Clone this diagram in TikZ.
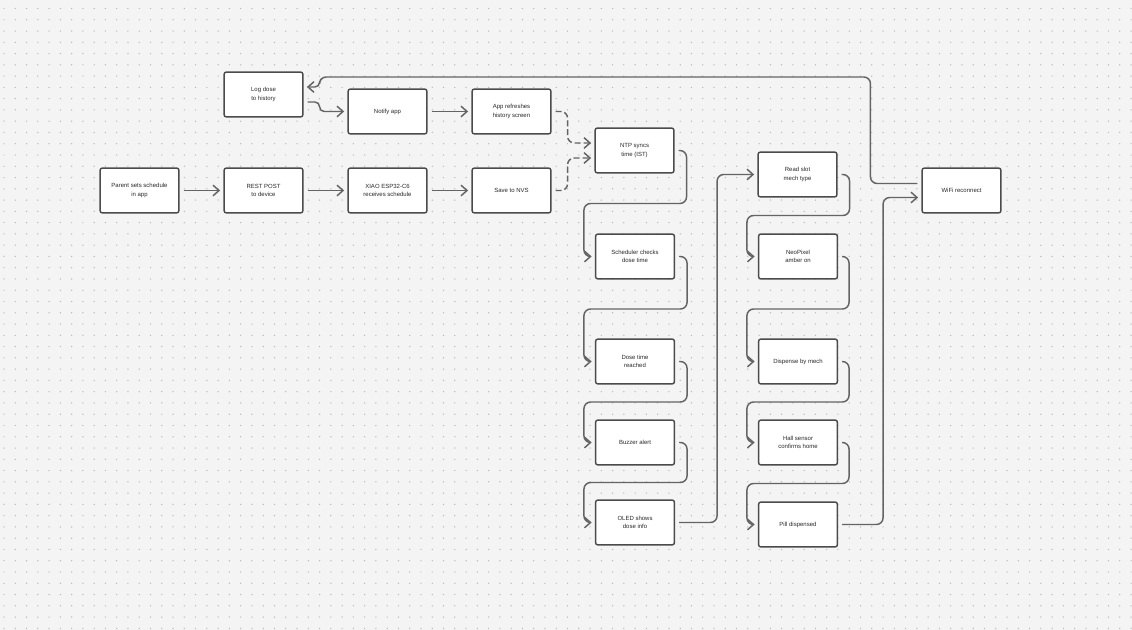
\documentclass[tikz,border=0pt]{standalone}
\usepackage{fontspec}
\setmainfont{Liberation Sans}
\usetikzlibrary{arrows.meta, calc}
\definecolor{FlowBg}{RGB}{244,244,244}
\definecolor{FlowDot}{RGB}{185,185,185}
\definecolor{FlowLine}{RGB}{100,100,100}
\definecolor{FlowBorder}{RGB}{75,75,75}
\definecolor{FlowText}{RGB}{40,40,40}

\tikzset{
  blk/.style={draw=FlowBorder, fill=white, line width=1.1pt, rounded corners=1.5pt,
    minimum width=59pt, minimum height=33.5pt, inner sep=1pt, align=center,
    text=FlowText, font=\fontsize{4.5}{6.4}\selectfont},
  flow/.style={draw=FlowLine, line width=1.1pt, rounded corners=5pt,
    -{Straight Barb[length=4.5pt,width=8pt]}, shorten >=2.5pt, shorten <=3pt},
  flowdash/.style={flow, dash pattern=on 4.5pt off 2.2pt}
}

\begin{document}
\begin{tikzpicture}[x=0.75pt,y=-0.75pt]
  \path[use as bounding box, fill=FlowBg] (0,0) rectangle (1132,630);
  % dot grid
  \foreach \i in {0,...,100}
    \foreach \j in {0,...,55}
      \fill[FlowDot] ({4+\i*11.27},{8.5+\j*11.27}) circle (0.55pt);

  % app / network side
  \node[blk] (logdose) at (263.5,94.5) {Log dose\\to history};
  \node[blk] (notify) at (387.5,111.5) {Notify app};
  \node[blk] (refresh) at (511.5,111.5) {App refreshes\\history screen};
  \node[blk] (parent) at (139.5,190.5) {Parent sets schedule\\in app};
  \node[blk] (rest) at (263.5,190.5) {REST POST\\to device};
  \node[blk] (xiao) at (387.5,190.5) {XIAO ESP32-C6\\receives schedule};
  \node[blk] (nvs) at (511.5,190.5) {Save to NVS};

  % scheduler column
  \node[blk] (ntp) at (634.5,150.5) {NTP syncs\\time (IST)};
  \node[blk] (sched) at (635,256.5) {Scheduler checks\\dose time};
  \node[blk] (reached) at (635,361.5) {Dose time\\reached};
  \node[blk] (buzzer) at (635,442.5) {Buzzer alert};
  \node[blk] (oled) at (635,522.5) {OLED shows\\dose info};

  % dispenser column
  \node[blk] (readslot) at (797.5,174.5) {Read slot\\mech type};
  \node[blk] (neopixel) at (798,256.5) {NeoPixel\\amber on};
  \node[blk] (dispense) at (798,361.5) {Dispense by mech};
  \node[blk] (hall) at (798,442.5) {Hall sensor\\confirms home};
  \node[blk] (pill) at (798,524.5) {Pill dispensed};
  \node[blk] (wifi) at (961.5,190.5) {WiFi reconnect};

  % connectors
  \draw[flow] (parent) -- (rest);
  \draw[flow] (rest) -- (xiao);
  \draw[flow] (xiao) -- (nvs);
  \draw[flow] (notify) -- (refresh);
  \draw[flow, rounded corners=3.5pt] ($(logdose.east)+(0,7.5)$) -- ++(16,0) |- (notify.west);
  \draw[flowdash] (refresh.east) -- ++(16,0) |- ($(ntp.west)+(0,-7.5)$);
  \draw[flowdash] (nvs.east) -- ++(16,0) |- ($(ntp.west)+(0,7.5)$);

  \draw[flow] (ntp.east) -- ++(12,0) |- ($(ntp.south)!0.5!(sched.north)$)
    -| ($(sched.west)+(-11,0)$) -- (sched.west);
  \draw[flow] (sched.east) -- ++(12,0) |- ($(sched.south)!0.5!(reached.north)$)
    -| ($(reached.west)+(-11,0)$) -- (reached.west);
  \draw[flow] (reached.east) -- ++(12,0) |- ($(reached.south)!0.5!(buzzer.north)$)
    -| ($(buzzer.west)+(-11,0)$) -- (buzzer.west);
  \draw[flow] (buzzer.east) -- ++(12,0) |- ($(buzzer.south)!0.5!(oled.north)$)
    -| ($(oled.west)+(-11,0)$) -- (oled.west);
  \draw[flow] (oled.east) -- ++(42,0) |- (readslot.west);

  \draw[flow] (readslot.east) -- ++(12,0) |- ($(readslot.south)!0.5!(neopixel.north)$)
    -| ($(neopixel.west)+(-11,0)$) -- (neopixel.west);
  \draw[flow] (neopixel.east) -- ++(11,0) |- ($(neopixel.south)!0.5!(dispense.north)$)
    -| ($(dispense.west)+(-11,0)$) -- (dispense.west);
  \draw[flow] (dispense.east) -- ++(11,0) |- ($(dispense.south)!0.5!(hall.north)$)
    -| ($(hall.west)+(-11,0)$) -- (hall.west);
  \draw[flow] (hall.east) -- ++(11,0) |- ($(hall.south)!0.5!(pill.north)$)
    -| ($(pill.west)+(-11,0)$) -- (pill.west);
  \draw[flow] (pill.east) -- ++(45,0) |- ($(wifi.west)+(0,7)$);
  \draw[flow] ($(wifi.west)+(0,-7)$) -- ++(-51,0) |- ($(logdose.east)+(16,-17.5)$)
    [rounded corners=3.5pt] |- ($(logdose.east)+(0,-7.5)$);
\end{tikzpicture}
\end{document}
